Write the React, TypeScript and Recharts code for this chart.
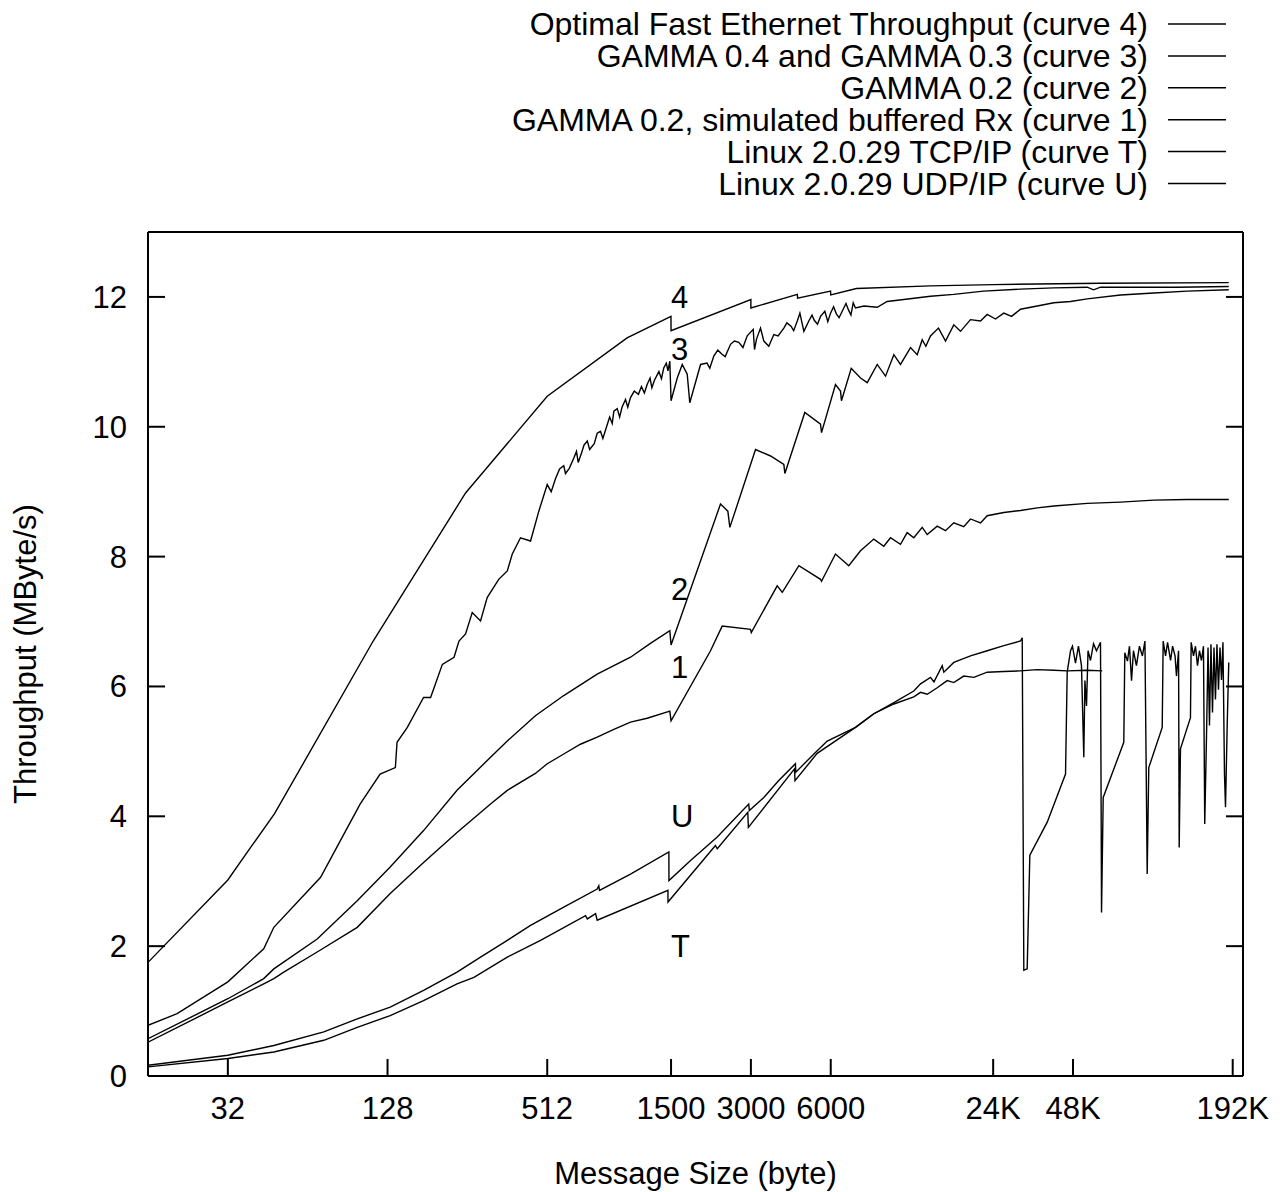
import React from "react"
import { LineChart, Line, XAxis, YAxis, Legend, ReferenceDot } from "recharts"

const FONT = "'Liberation Sans', Arial, Helvetica, sans-serif"
const FS = 31

const xTicks = [32, 128, 512, 1500, 3000, 6000, 24576, 49152, 196608]
const xTickLabels = ["32", "128", "512", "1500", "3000", "6000", "24K", "48K", "192K"]
const yTicks = [0, 2, 4, 6, 8, 10, 12]

// [message size (byte), throughput (MByte/s)]
const optimal = [
  [16, 1.75], [32, 3.02], [39, 3.52], [48, 4.04], [113, 6.7], [252, 8.98], [512, 10.47],
  [1024, 11.37], [1499, 11.7], [1500, 11.48], [2999, 11.96], [3000, 11.83], [4490, 12.04],
  [4500, 11.98], [5990, 12.09], [6000, 12.03], [7500, 12.13], [14260, 12.17], [24576, 12.19],
  [62400, 12.21], [190000, 12.22],
]

const gamma34 = [
  [16, 0.78], [20.6, 0.96], [32, 1.45], [43.7, 1.96], [47.7, 2.29], [71.6, 3.06], [85.1, 3.63],
  [101, 4.19], [120, 4.65], [137, 4.75], [139, 5.14], [152, 5.37], [175, 5.83], [186, 5.83],
  [191, 5.96], [206, 6.34], [228, 6.45], [238, 6.7], [252, 6.81], [267, 7.14], [287, 7.01],
  [304, 7.37], [336, 7.65], [362, 7.78], [378, 8.04], [406, 8.29], [443, 8.24], [476, 8.7],
  [512, 9.11], [530, 9.0], [550, 9.2], [570, 9.35], [591, 9.4], [600, 9.28], [620, 9.36],
  [645, 9.52], [660, 9.62], [670, 9.45], [690, 9.6], [705, 9.72], [725, 9.78], [740, 9.65],
  [770, 9.74], [790, 9.9], [813, 9.93], [830, 9.82], [860, 10.02], [880, 10.15], [900, 10.05],
  [913, 10.24], [940, 10.28], [960, 10.15], [980, 10.3], [1010, 10.42], [1030, 10.3],
  [1055, 10.45], [1090, 10.55], [1130, 10.5], [1160, 10.62], [1190, 10.52], [1219, 10.65],
  [1250, 10.75], [1270, 10.6], [1300, 10.72], [1350, 10.85], [1380, 10.74], [1409, 10.91],
  [1440, 10.98], [1460, 10.86], [1484, 11.01], [1500, 10.4], [1583, 10.75], [1653, 10.96],
  [1726, 10.81], [1765, 10.37], [1938, 10.96], [2050, 10.98], [2100, 10.9], [2174, 11.09],
  [2250, 11.18], [2330, 11.12], [2400, 11.08], [2514, 11.27], [2600, 11.32], [2700, 11.3],
  [2800, 11.22], [2906, 11.4], [3061, 11.5], [3096, 11.19], [3150, 11.35], [3261, 11.52],
  [3357, 11.32], [3504, 11.24], [3661, 11.42], [3800, 11.4], [3993, 11.52], [4100, 11.6],
  [4250, 11.55], [4350, 11.48], [4487, 11.63], [4590, 11.75], [4752, 11.47], [4960, 11.63],
  [5100, 11.72], [5200, 11.64], [5350, 11.58], [5491, 11.7], [5700, 11.78], [5850, 11.62],
  [5990, 11.75], [6150, 11.85], [6300, 11.74], [6450, 11.68], [6720, 11.83], [6850, 11.9],
  [7000, 11.8], [7150, 11.72], [7293, 11.91], [7440, 11.83], [7997, 11.86], [8982, 11.84],
  [9795, 11.93], [11315, 11.96], [14263, 12.01], [17462, 12.04], [22602, 12.09],
  [31153, 12.12], [41620, 12.14], [55600, 12.15], [58739, 12.11], [62397, 12.15],
  [74240, 12.15], [121344, 12.15], [190000, 12.16],
]

const gamma2 = [
  [16, 0.575], [32, 1.19], [43.7, 1.5], [47.7, 1.65], [69.5, 2.11], [98.4, 2.7], [131, 3.22],
  [175, 3.78], [234, 4.4], [313, 4.91], [362, 5.16], [462, 5.55], [591, 5.86], [790, 6.19],
  [1055, 6.45], [1250, 6.66], [1484, 6.86], [1500, 6.64], [2304, 8.81], [2456, 8.7],
  [2499, 8.45], [3123, 9.65], [3558, 9.55], [3993, 9.42], [4029, 9.28], [4791, 10.22],
  [5491, 10.04], [5539, 9.91], [6252, 10.65], [6531, 10.55], [6586, 10.4], [7168, 10.9],
  [7770, 10.75], [8237, 10.68], [8982, 10.96], [9654, 10.78], [10378, 11.11], [10992, 10.96],
  [11994, 11.22], [12710, 11.11], [13274, 11.34], [13700, 11.24], [14263, 11.4],
  [15287, 11.52], [16250, 11.32], [17462, 11.57], [18509, 11.47], [20185, 11.65],
  [22026, 11.63], [23334, 11.73], [25075, 11.66], [26955, 11.75], [28823, 11.7],
  [31153, 11.81], [36032, 11.86], [41620, 11.91], [48106, 11.93], [55600, 11.97],
  [74240, 12.03], [99104, 12.06], [132416, 12.09], [190000, 12.11],
]

const gamma2Buffered = [
  [16, 0.52], [32, 1.14], [43.7, 1.42], [47.7, 1.5], [52, 1.6], [69.5, 1.91], [98.4, 2.29],
  [131, 2.81], [175, 3.29], [234, 3.75], [313, 4.19], [362, 4.4], [462, 4.66], [512, 4.81],
  [591, 4.96], [683, 5.11], [790, 5.22], [913, 5.34], [1055, 5.45], [1219, 5.51],
  [1484, 5.62], [1500, 5.47], [2113, 6.55], [2338, 6.93], [2990, 6.88], [3010, 6.83],
  [3770, 7.55], [3939, 7.45], [4550, 7.86], [5491, 7.65], [5539, 7.62], [6252, 8.04],
  [7018, 7.86], [7770, 8.09], [8720, 8.27], [9510, 8.16], [10080, 8.29], [10992, 8.19],
  [11648, 8.37], [12339, 8.29], [13274, 8.45], [13866, 8.34], [15120, 8.47], [16250, 8.4],
  [17462, 8.52], [19043, 8.46], [20185, 8.58], [22026, 8.52], [23334, 8.63], [26955, 8.68],
  [31153, 8.71], [36032, 8.75], [41620, 8.78], [55600, 8.82], [74240, 8.84], [99104, 8.87],
  [132416, 8.88], [190000, 8.88],
]

const linuxTcp = [
  [16, 0.14], [32, 0.27], [47.7, 0.37], [73.6, 0.55], [98.4, 0.75], [131, 0.93], [175, 1.16],
  [234, 1.42], [271, 1.52], [362, 1.83], [483, 2.09], [714, 2.47], [725, 2.42], [779, 2.5],
  [790, 2.4], [1460, 2.86], [1461, 2.68], [2205, 3.55], [2240, 3.5], [2920, 4.06],
  [2935, 3.83], [4380, 4.73], [4400, 4.55], [5334, 4.97], [7440, 5.37], [8720, 5.58],
  [10378, 5.75], [12339, 5.93], [13082, 6.04], [14263, 6.14], [14700, 6.07], [15792, 6.32],
  [16013, 6.22], [17462, 6.37], [20185, 6.47], [23334, 6.55], [26955, 6.63], [31153, 6.7],
  [31630, 6.75], [32069, 1.63], [33020, 1.65], [33787, 3.4], [39296, 3.91], [46061, 4.65],
  [46736, 6.22], [48106, 6.55], [48920, 6.62], [50220, 6.36], [51540, 6.62], [52900, 6.32],
  [53980, 4.91], [54500, 6.09], [55264, 5.7], [56000, 6.55], [57210, 6.4], [58739, 6.66],
  [60270, 6.55], [62397, 6.68], [62960, 2.52], [63885, 4.29], [76384, 5.14], [77056, 6.52],
  [78860, 6.39], [80240, 6.62], [81696, 6.09], [83070, 6.55], [85230, 6.32], [87500, 6.62],
  [89780, 6.47], [91780, 6.7], [93600, 3.11], [94880, 4.75], [106624, 5.37], [107520, 6.7],
  [109760, 6.47], [111680, 6.68], [114660, 6.4], [116660, 6.62], [119200, 6.47],
  [120672, 6.16], [122880, 6.55], [123552, 3.52], [124928, 5.04], [136256, 5.52],
  [137088, 6.68], [139900, 6.47], [142330, 6.62], [144830, 6.32], [147340, 6.55],
  [149920, 6.4], [152540, 6.62], [154240, 3.88], [156608, 5.22], [158700, 6.6],
  [160700, 5.4], [162800, 6.65], [164960, 5.6], [167160, 6.6], [169250, 5.8], [171490, 6.65],
  [173760, 5.95], [176070, 6.6], [178400, 6.1], [180640, 6.68], [183072, 4.65],
  [184704, 4.14], [187424, 5.4], [190016, 6.37],
]

const linuxUdp = [
  [16, 0.165], [32, 0.32], [47.7, 0.47], [73.6, 0.68], [98.4, 0.88], [131, 1.06], [175, 1.32],
  [234, 1.6], [287, 1.83], [362, 2.09], [443, 2.32], [591, 2.6], [790, 2.88], [801, 2.93],
  [806, 2.86], [1055, 3.11], [1472, 3.45], [1473, 3.01], [1777, 3.32], [2240, 3.68],
  [2944, 4.19], [2960, 4.09], [3357, 4.29], [3821, 4.55], [4416, 4.81], [4430, 4.68],
  [5334, 5.01], [5820, 5.16], [7440, 5.37], [8720, 5.58], [10378, 5.73], [12339, 5.84],
  [13082, 5.91], [13866, 5.88], [15120, 5.98], [16487, 6.09], [17460, 6.06], [19043, 6.16],
  [20781, 6.14], [23334, 6.22], [26955, 6.23], [31153, 6.24], [36032, 6.26], [41620, 6.25],
  [46736, 6.24], [55600, 6.25], [63354, 6.24],
]

const series = [
  { name: "Optimal Fast Ethernet Throughput (curve 4)", points: optimal },
  { name: "GAMMA 0.4 and GAMMA 0.3 (curve 3)", points: gamma34 },
  { name: "GAMMA 0.2 (curve 2)", points: gamma2 },
  { name: "GAMMA 0.2, simulated buffered Rx (curve 1)", points: gamma2Buffered },
  { name: "Linux 2.0.29 TCP/IP (curve T)", points: linuxTcp },
  { name: "Linux 2.0.29 UDP/IP (curve U)", points: linuxUdp },
]

// curve tags written next to the curves at 1500 bytes
const curveTags = ["4", "3", "2", "1", "U", "T"]
const curveTagY = [12, 11.2, 7.5, 6.3, 4, 2]
const TAG_X = 1500

const X_DOMAIN = [16, 215000]
const Y_DOMAIN = [0, 13]

function BottomTick(props: any) {
  const { x, y, payload } = props
  const i = xTicks.indexOf(payload.value)
  return (
    <g>
      <line x1={x} y1={y} x2={x} y2={y - 17} stroke="#000" strokeWidth={2} />
      <text x={x} y={y + 43} textAnchor="middle" fontSize={FS} fontFamily={FONT} fill="#000">
        {xTickLabels[i]}
      </text>
    </g>
  )
}

function TopTick(props: any) {
  const { x, y } = props
  return <line x1={x} y1={y} x2={x} y2={y + 17} stroke="#000" strokeWidth={2} />
}

function LeftTick(props: any) {
  const { x, y, payload } = props
  return (
    <g>
      <line x1={x} y1={y} x2={x + 17} y2={y} stroke="#000" strokeWidth={2} />
      <text x={x - 21} y={y + 11} textAnchor="end" fontSize={FS} fontFamily={FONT} fill="#000">
        {payload.value}
      </text>
    </g>
  )
}

function RightTick(props: any) {
  const { x, y } = props
  return <line x1={x} y1={y} x2={x - 17} y2={y} stroke="#000" strokeWidth={2} />
}

// legend keeps the series order (Recharts sorts its payload by name)
function LegendBox() {
  return (
    <svg width={1285} height={200} style={{ display: "block" }}>
      {series.map((s, i) => {
        const cy = 24 + i * 31.9
        return (
          <g key={s.name}>
            <text x={1148} y={cy + 11} textAnchor="end" fontSize={32} fontFamily={FONT} fill="#000">
              {s.name}
            </text>
            <line x1={1168} x2={1226} y1={cy} y2={cy} stroke="#000" strokeWidth={1.5} />
          </g>
        )
      })}
    </svg>
  )
}

export default function App() {
  const axisLine = { stroke: "#000", strokeWidth: 2 }
  return (
    <div style={{ position: "absolute", left: 0, top: 0, width: 1285, height: 1192, background: "#fff" }}>
      <LineChart width={1285} height={1192} margin={{ top: 231, right: 41, bottom: 0, left: 48 }}>
        <XAxis
          dataKey="size"
          type="number"
          scale="log"
          domain={X_DOMAIN}
          allowDataOverflow
          ticks={xTicks}
          interval={0}
          tickSize={0}
          tickMargin={0}
          tickLine={false}
          tick={<BottomTick />}
          axisLine={axisLine}
          height={116}
          label={(p: any) => {
            const vb = p.viewBox
            return (
              <text x={vb.x + vb.width / 2} y={vb.y + 108} textAnchor="middle" fontSize={FS} fontFamily={FONT} fill="#000">
                Message Size (byte)
              </text>
            )
          }}
        />
        <XAxis
          xAxisId="top"
          orientation="top"
          type="number"
          scale="log"
          domain={X_DOMAIN}
          allowDataOverflow
          ticks={xTicks}
          interval={0}
          tickSize={0}
          tickMargin={0}
          tickLine={false}
          tick={<TopTick />}
          axisLine={axisLine}
          height={1}
        />
        <YAxis
          type="number"
          domain={Y_DOMAIN}
          allowDataOverflow
          ticks={yTicks}
          interval={0}
          tickSize={0}
          tickMargin={0}
          tickLine={false}
          tick={<LeftTick />}
          axisLine={axisLine}
          width={100}
          label={(p: any) => {
            const vb = p.viewBox
            const cy = vb.y + vb.height / 2
            return (
              <text x={35.5} y={cy} transform={`rotate(-90 35.5 ${cy})`} textAnchor="middle" fontSize={FS} fontFamily={FONT} fill="#000">
                Throughput (MByte/s)
              </text>
            )
          }}
        />
        <YAxis
          yAxisId="right"
          orientation="right"
          type="number"
          domain={Y_DOMAIN}
          allowDataOverflow
          ticks={yTicks}
          interval={0}
          tickSize={0}
          tickMargin={0}
          tickLine={false}
          tick={<RightTick />}
          axisLine={axisLine}
          width={1}
        />
        <Legend
          layout="horizontal"
          verticalAlign="middle"
          align="center"
          content={<LegendBox />}
          wrapperStyle={{ top: 0, left: 0, width: 1285, height: 200 }}
        />
        {series.map((s) => (
          <Line
            key={s.name}
            name={s.name}
            data={s.points.map(([size, thr]) => ({ size, thr }))}
            dataKey="thr"
            type="linear"
            stroke="#000"
            strokeWidth={1.4}
            dot={false}
            activeDot={false}
            isAnimationActive={false}
          />
        ))}
        {curveTags.map((tag, i) => (
          <ReferenceDot
            key={tag}
            x={TAG_X}
            y={curveTagY[i]}
            r={1}
            fill="none"
            stroke="none"
            label={(p: any) => {
              const vb = p.viewBox
              return (
                <text x={vb.x + vb.width / 2} y={vb.y + vb.height / 2 + 11} fontSize={FS} fontFamily={FONT} fill="#000">
                  {tag}
                </text>
              )
            }}
          />
        ))}
      </LineChart>
    </div>
  )
}
